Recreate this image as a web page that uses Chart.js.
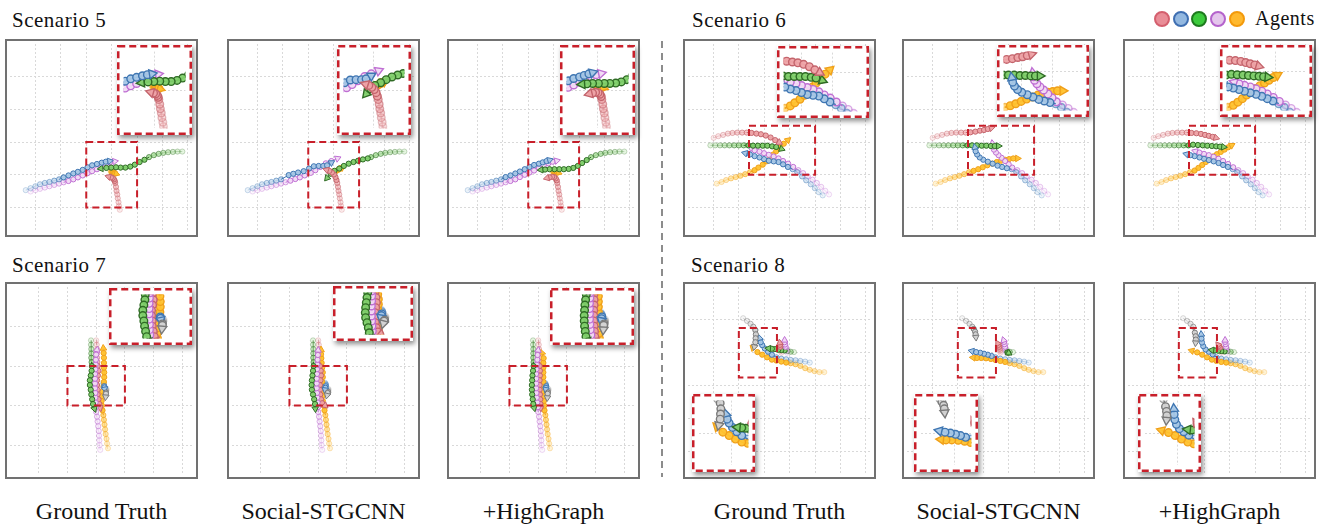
<!DOCTYPE html>
<html lang="en">
<head>
<meta charset="UTF-8">
<title>Trajectory scenarios</title>
<script src="https://cdn.jsdelivr.net/npm/chart.js@4.4.1/dist/chart.umd.min.js"></script>
<style>
  body { margin: 0; background: #fff; font-family: 'Liberation Serif', 'DejaVu Serif', serif; color: #111; }
  #stage { position: relative; width: 1321px; height: 526px; overflow: hidden; }
  .box { position: absolute; }
  .inset { position: absolute; background: #fff; box-shadow: 2px 3px 5px rgba(0,0,0,0.45); z-index: 2; }
  .title { position: absolute; font-size: 21px; line-height: 21px; letter-spacing: 0.5px; white-space: nowrap; }
  .method { position: absolute; width: 240px; text-align: center; font-size: 24px; line-height: 24px; white-space: nowrap; }
  .dot { position: absolute; width: 16px; height: 16px; border-radius: 50%; box-sizing: border-box; border: 2.5px solid; }
  .sep { position: absolute; left: 661px; top: 41px; width: 1.5px; height: 436px;
         background: repeating-linear-gradient(to bottom, #8c8c8c 0 7px, transparent 7px 12px); }
</style>
</head>
<body>
<div id="stage"></div>
<script>
// ---- grid lines / ranges (grid units) ----
const gridX7 = [1, 2, 3, 4, 5, 6, 7]
const gridY5 = [0, 1, 2, 3, 4]
const gridX6 = [1, 2, 3, 4, 5, 6]
const gridY4 = [0, 1, 2, 3]
const range5 = [0, 7.2, -0.75, 5]
const range6 = [0, 7.2, -0.75, 5]
const range7 = [0, 6.37, -0.73, 4]
const range8 = [0, 7.2, -0.69, 5]
// zoomed region shown in each inset: [xMin, xMax, yMin, yMax]
const box5 = [3, 5, 0, 2]
const box6 = [2.4, 5, 1, 2.5]
const box7 = [2, 4, 1, 2]
const box8 = [2, 3.5, 2.25, 3.75]

const methods = ['Ground Truth', 'Social-STGCNN', '+HighGraph']

// ---- Scenario 5 ----
const s5HistRed = [[4.32,-0.07],[4.29,0.05],[4.27,0.16],[4.24,0.28],[4.22,0.40],[4.19,0.51],[4.17,0.63],[4.14,0.75]]
const s5HistBlue = [[0.62,0.53],[0.81,0.59],[1.00,0.65],[1.18,0.71],[1.37,0.75],[1.55,0.78],[1.74,0.82],[1.93,0.86]]
const s5HistGreen = [[6.78,1.71],[6.59,1.71],[6.41,1.70],[6.22,1.69],[6.03,1.67],[5.85,1.64],[5.66,1.60],[5.47,1.54]]
const s5HistViolet = [[0.81,0.49],[1.00,0.53],[1.18,0.57],[1.37,0.61],[1.55,0.65],[1.74,0.69],[1.93,0.73],[2.11,0.77]]
const s5HistOrange = [[3.96,1.10],[3.98,1.10],[4.00,1.09]]

const s5GtRed = [[4.12,0.81],[4.09,0.86],[4.04,0.90],[3.97,0.92],[3.88,0.94]]
const s5GtBlue = [[2.11,0.92],[2.30,0.98],[2.49,1.04],[2.67,1.09],[2.86,1.15],[3.05,1.23],[3.23,1.29],[3.42,1.33],[3.61,1.37],[3.77,1.40],[3.92,1.42]]
const s5GtGreen = [[5.29,1.46],[5.10,1.39],[4.91,1.31],[4.73,1.25],[4.54,1.22],[4.35,1.22],[4.17,1.23],[3.98,1.22],[3.79,1.21],[3.58,1.19]]
const s5GtViolet = [[2.30,0.81],[2.49,0.86],[2.67,0.92],[2.86,0.98],[3.05,1.05],[3.23,1.11],[3.42,1.17],[3.61,1.25],[3.77,1.33],[3.94,1.39],[4.12,1.41]]
const s5GtOrange = [[4.03,1.08],[4.06,1.07],[4.10,1.05],[4.14,1.04],[4.18,1.03]]

const s5StRed = [[4.11,0.84],[4.07,0.93],[4.01,1.01],[3.93,1.07],[3.83,1.12],[3.72,1.15]]
const s5StBlue = [[2.23,0.99],[2.41,1.03],[2.60,1.07],[2.82,1.11],[3.03,1.19],[3.22,1.26],[3.41,1.27],[3.59,1.27],[3.74,1.29],[3.91,1.37]]
const s5StGreen = [[5.34,1.50],[5.15,1.47],[4.96,1.43],[4.78,1.39],[4.59,1.34],[4.40,1.27],[4.22,1.19],[4.03,1.12],[3.88,1.03],[3.74,0.90]]
const s5StViolet = [[2.30,0.82],[2.49,0.87],[2.67,0.92],[2.86,0.98],[3.10,1.06],[3.28,1.14],[3.47,1.24],[3.69,1.35],[3.91,1.42],[4.15,1.50]]
const s5StOrange = [[4.06,1.10],[4.13,1.13],[4.20,1.16],[4.27,1.19],[4.33,1.22]]

const s5HgRed = [[4.12,0.83],[4.08,0.89],[4.02,0.93],[3.94,0.94],[3.84,0.92],[3.74,0.90]]
const s5HgBlue = [[2.11,0.93],[2.30,0.98],[2.49,1.04],[2.67,1.10],[2.86,1.17],[3.05,1.24],[3.23,1.30],[3.42,1.34],[3.57,1.38],[3.72,1.42],[3.84,1.45]]
const s5HgGreen = [[5.30,1.45],[5.12,1.36],[4.95,1.27],[4.77,1.21],[4.59,1.18],[4.40,1.17],[4.22,1.17],[4.03,1.17],[3.84,1.17],[3.66,1.16],[3.50,1.15]]
const s5HgViolet = [[2.30,0.81],[2.49,0.86],[2.67,0.93],[2.86,1.00],[3.05,1.07],[3.23,1.13],[3.42,1.20],[3.61,1.28],[3.79,1.35],[3.96,1.40],[4.12,1.43]]
const s5HgOrange = [[4.03,1.08],[4.07,1.08],[4.11,1.08],[4.15,1.07],[4.19,1.06]]

// ---- Scenario 6 ----
const s6HistRed = [[1.01,2.13],[1.19,2.18],[1.38,2.22],[1.57,2.26],[1.75,2.28],[1.94,2.29],[2.13,2.29],[2.31,2.29]]
const s6HistBlue = [[5.30,0.37],[5.14,0.47],[4.99,0.59],[4.83,0.71],[4.65,0.83],[4.49,0.95],[4.30,1.08],[4.12,1.17]]
const s6HistGreen = [[0.88,1.90],[1.07,1.90],[1.26,1.90],[1.44,1.90],[1.63,1.90],[1.82,1.90],[2.00,1.90],[2.19,1.90]]
const s6HistViolet = [[5.55,0.40],[5.40,0.51],[5.24,0.63],[5.07,0.75],[4.90,0.85],[4.71,0.95],[4.53,1.05],[4.34,1.14]]
const s6HistOrange = [[1.13,0.73],[1.32,0.78],[1.50,0.84],[1.69,0.89],[1.88,0.93],[2.06,0.97],[2.25,1.02],[2.44,1.08]]

const s6GtRed = [[2.50,2.28],[2.69,2.26],[2.87,2.24],[3.06,2.20],[3.25,2.14],[3.43,2.06],[3.59,1.99]]
const s6GtBlue = [[3.93,1.24],[3.74,1.32],[3.56,1.39],[3.37,1.41],[3.18,1.43],[2.99,1.48],[2.81,1.53],[2.62,1.57],[2.44,1.62],[2.25,1.66]]
const s6GtGreen = [[2.38,1.90],[2.56,1.89],[2.75,1.89],[2.94,1.89],[3.12,1.89],[3.31,1.87],[3.47,1.85],[3.68,1.79]]
const s6GtViolet = [[4.14,1.24],[3.94,1.34],[3.74,1.42],[3.56,1.50],[3.37,1.56],[3.18,1.61],[2.99,1.66],[2.81,1.71],[2.62,1.75],[2.48,1.82]]
const s6GtOrange = [[2.62,1.14],[2.77,1.22],[2.94,1.31],[3.09,1.41],[3.23,1.50],[3.35,1.62],[3.47,1.72],[3.62,1.82],[3.77,1.95],[3.93,2.06]]

const s6StRed = [[2.50,2.30],[2.69,2.32],[2.87,2.35],[3.03,2.37],[3.18,2.40],[3.32,2.43]]
const s6StBlue = [[3.93,1.20],[3.74,1.24],[3.56,1.28],[3.37,1.34],[3.18,1.40],[3.00,1.46],[2.86,1.53],[2.76,1.62],[2.70,1.72],[2.67,1.84]]
const s6StGreen = [[2.38,1.90],[2.56,1.90],[2.75,1.90],[2.94,1.89],[3.12,1.89],[3.30,1.88],[3.45,1.88],[3.60,1.88]]
const s6StViolet = [[4.14,1.22],[4.00,1.32],[3.86,1.42],[3.72,1.52],[3.60,1.60],[3.50,1.68],[3.42,1.77],[3.38,1.86],[3.36,1.96]]
const s6StOrange = [[2.62,1.12],[2.80,1.17],[2.98,1.23],[3.16,1.29],[3.35,1.34],[3.53,1.39],[3.70,1.43],[3.86,1.46],[4.02,1.48],[4.18,1.50],[4.35,1.50]]

const s6HgRed = [[2.50,2.28],[2.69,2.27],[2.87,2.25],[3.03,2.22],[3.18,2.19],[3.33,2.16],[3.46,2.13]]
const s6HgBlue = [[3.93,1.24],[3.74,1.30],[3.56,1.36],[3.37,1.41],[3.18,1.45],[2.99,1.49],[2.81,1.53],[2.62,1.57],[2.45,1.60],[2.30,1.63]]
const s6HgGreen = [[2.38,1.90],[2.56,1.92],[2.75,1.91],[2.94,1.90],[3.12,1.89],[3.30,1.88],[3.47,1.87],[3.62,1.86],[3.76,1.85]]
const s6HgViolet = [[4.14,1.23],[3.94,1.33],[3.74,1.42],[3.56,1.49],[3.37,1.55],[3.18,1.60],[2.99,1.64],[2.81,1.68],[2.65,1.72]]
const s6HgOrange = [[2.62,1.13],[2.77,1.21],[2.92,1.30],[3.06,1.39],[3.20,1.48],[3.35,1.56],[3.50,1.63],[3.65,1.70],[3.80,1.77],[3.94,1.84],[4.08,1.90]]

// ---- Scenario 7 ----
const s7HistRed = [[3.00,2.65],[3.02,2.54],[3.03,2.43],[3.03,2.32],[3.03,2.21],[3.04,2.10]]
const s7HistBlue = [[3.24,1.58],[3.26,1.55],[3.27,1.52]]
const s7HistGreen = [[2.82,2.65],[2.82,2.54],[2.83,2.43],[2.83,2.32],[2.83,2.21],[2.84,2.10]]
const s7HistViolet = [[3.14,-0.12],[3.12,0.00],[3.11,0.12],[3.10,0.24],[3.09,0.36],[3.07,0.48],[3.05,0.60],[3.03,0.72],[3.00,0.84]]
const s7HistOrange = [[3.41,-0.08],[3.38,0.04],[3.36,0.16],[3.33,0.28],[3.31,0.40],[3.29,0.52],[3.27,0.64],[3.25,0.76]]
const s7HistGray = [[3.36,1.42],[3.35,1.39],[3.34,1.36]]

const s7GtRed = [[3.05,2.00],[3.08,1.88],[3.06,1.76],[3.03,1.64],[3.03,1.52],[3.05,1.40],[3.05,1.28],[3.08,1.16],[3.11,1.04],[3.14,0.94]]
const s7GtBlue = [[3.28,1.49],[3.29,1.46],[3.30,1.42]]
const s7GtGreen = [[2.85,2.00],[2.84,1.88],[2.81,1.76],[2.78,1.64],[2.78,1.52],[2.81,1.40],[2.83,1.28],[2.86,1.16],[2.89,1.04],[2.94,0.92]]
const s7GtViolet = [[2.99,0.96],[2.98,1.08],[2.97,1.20],[2.97,1.32],[2.96,1.44],[2.96,1.56],[2.96,1.68],[2.96,1.80],[2.97,1.92],[2.98,2.04],[2.99,2.16],[3.00,2.29],[3.03,2.41]]
const s7GtOrange = [[3.22,0.88],[3.20,1.00],[3.19,1.12],[3.20,1.24],[3.22,1.36],[3.25,1.48],[3.27,1.60],[3.28,1.72],[3.28,1.84],[3.27,1.96],[3.27,2.08],[3.27,2.21],[3.26,2.33],[3.25,2.45]]
const s7GtGray = [[3.34,1.33],[3.34,1.30],[3.33,1.22]]

const s7StRed = [[3.06,2.00],[3.09,1.88],[3.10,1.76],[3.08,1.64],[3.06,1.52],[3.06,1.40],[3.07,1.28],[3.10,1.16],[3.14,1.06],[3.24,1.00]]
const s7StBlue = [[3.26,1.49],[3.25,1.45],[3.24,1.40]]
const s7StGreen = [[2.84,2.00],[2.82,1.88],[2.80,1.76],[2.78,1.64],[2.77,1.52],[2.78,1.40],[2.82,1.28],[2.86,1.16],[2.89,1.04],[2.90,0.92]]
const s7StViolet = [[2.99,0.96],[2.98,1.08],[2.97,1.20],[2.96,1.32],[2.95,1.44],[2.95,1.56],[2.95,1.68],[2.96,1.80],[2.96,1.92],[2.97,2.04],[2.98,2.16],[2.99,2.28],[3.00,2.40]]
const s7StOrange = [[3.22,0.88],[3.19,1.00],[3.16,1.12],[3.14,1.24],[3.13,1.36],[3.13,1.48],[3.14,1.60],[3.16,1.72],[3.16,1.84],[3.14,1.96],[3.12,2.08],[3.11,2.20],[3.10,2.30],[3.10,2.41]]
const s7StGray = [[3.35,1.34],[3.33,1.32],[3.31,1.26]]

const s7HgRed = [[3.05,2.00],[3.06,1.88],[3.06,1.76],[3.05,1.64],[3.05,1.52],[3.05,1.40],[3.06,1.28],[3.07,1.16],[3.08,1.04],[3.09,0.94]]
const s7HgBlue = [[3.28,1.49],[3.27,1.45],[3.26,1.41]]
const s7HgGreen = [[2.84,2.00],[2.82,1.88],[2.80,1.76],[2.79,1.64],[2.78,1.52],[2.78,1.40],[2.79,1.28],[2.81,1.16],[2.83,1.04],[2.86,0.94]]
const s7HgViolet = [[2.99,0.96],[2.97,1.08],[2.95,1.20],[2.94,1.32],[2.93,1.44],[2.93,1.56],[2.93,1.68],[2.93,1.80],[2.94,1.92],[2.95,2.04],[2.97,2.16],[2.98,2.28],[3.00,2.40]]
const s7HgOrange = [[3.22,0.88],[3.21,1.00],[3.20,1.12],[3.19,1.24],[3.18,1.36],[3.18,1.48],[3.18,1.60],[3.18,1.72],[3.18,1.84],[3.18,1.96],[3.18,2.08],[3.19,2.20],[3.13,2.33]]
const s7HgGray = [[3.34,1.33],[3.33,1.30],[3.32,1.20]]

// ---- Scenario 8 ----
const s8HistRed = [[3.67,3.00],[3.66,3.06],[3.65,3.12]]
const s8HistBlue = [[4.79,2.70],[4.61,2.73],[4.42,2.75],[4.23,2.77],[4.04,2.78],[3.86,2.80],[3.67,2.82],[3.48,2.86]]
const s8HistGreen = [[4.17,3.02],[4.04,3.03],[3.92,3.05]]
const s8HistViolet = [[3.90,3.00],[3.88,3.06],[3.86,3.12]]
const s8HistOrange = [[5.36,2.41],[5.17,2.41],[4.98,2.44],[4.79,2.48],[4.61,2.53],[4.42,2.60],[4.23,2.65],[4.04,2.68]]
const s8HistGray = [[2.17,4.05],[2.32,3.97],[2.46,3.88],[2.57,3.79]]

const s8GtRed = [[3.63,3.18],[3.62,3.24],[3.61,3.30]]
const s8GtBlue = [[3.30,2.94],[3.15,3.03],[3.02,3.13],[2.92,3.23],[2.86,3.32],[2.82,3.44]]
const s8GtGreen = [[3.80,3.07],[3.67,3.08],[3.55,3.09],[3.42,3.11],[3.30,3.12],[3.17,3.13]]
const s8GtViolet = [[3.84,3.18],[3.82,3.25],[3.80,3.32],[3.80,3.38]]
const s8GtOrange = [[3.86,2.70],[3.67,2.73],[3.48,2.76],[3.30,2.79],[3.11,2.86],[2.92,2.94],[2.73,3.02],[2.55,3.15]]
const s8GtGray = [[2.65,3.69],[2.67,3.56],[2.66,3.44],[2.65,3.32],[2.61,3.18]]

const s8StRed = [[3.63,3.18],[3.60,3.24],[3.57,3.28]]
const s8StBlue = [[3.33,2.90],[3.18,2.94],[3.03,2.97],[2.88,3.00],[2.72,3.02],[2.55,3.05]]
const s8StGreen = [[3.95,3.02],[3.98,3.00],[4.00,2.99]]
const s8StViolet = [[3.86,3.18],[3.84,3.26],[3.82,3.33],[3.80,3.38]]
const s8StOrange = [[3.86,2.72],[3.67,2.75],[3.48,2.78],[3.30,2.81],[3.11,2.83],[2.92,2.84],[2.75,2.84],[2.60,2.85]]
const s8StGray = [[2.63,3.72],[2.68,3.64],[2.70,3.56],[2.71,3.47]]

const s8HgRed = [[3.62,3.16],[3.58,3.21],[3.55,3.24]]
const s8HgBlue = [[3.33,2.95],[3.18,3.03],[3.05,3.10],[2.96,3.20],[2.91,3.31],[2.89,3.43],[2.88,3.56]]
const s8HgGreen = [[3.80,3.04],[3.67,3.05],[3.55,3.06],[3.42,3.07],[3.30,3.08]]
const s8HgViolet = [[3.86,3.18],[3.84,3.26],[3.82,3.33],[3.82,3.38]]
const s8HgOrange = [[3.86,2.70],[3.67,2.72],[3.48,2.75],[3.30,2.79],[3.11,2.86],[2.92,2.94],[2.72,3.01],[2.51,3.06]]
const s8HgGray = [[2.63,3.61],[2.66,3.50],[2.67,3.40],[2.66,3.30]]

// ---- styles ----
const edgeColor = { red: '#c4646c', blue: '#3f76b2', green: '#2f6b25', violet: '#bf6fd3', orange: '#f0a01a', gray: '#7a7a7a' }
const fillColor = { red: '#eea3a7', blue: '#a7c7e6', green: '#80d06a', violet: '#f2dbf6', orange: '#ffc22e', gray: '#d3d3d3' }
const legendAgents = ['red', 'blue', 'green', 'violet', 'orange']
const legendFill = { red: '#e98d97', blue: '#93b8e0', green: '#3ccb3c', violet: '#e4c6ec', orange: '#ffb92e' }
const legendEdge = { red: '#d45f6e', blue: '#3f6fb2', green: '#1e7a1e', violet: '#b463cc', orange: '#f39a0c' }

// ---- layout ----
const panelLeft = [5, 227, 447, 683, 902, 1123]
const rowTop = [39, 282]
const rowHeight = [198, 197]
const panelWidth = 193

function rgba(hex, a) {
    const n = parseInt(hex.slice(1), 16)
    return 'rgba(' + (n >> 16) + ',' + ((n >> 8) & 255) + ',' + (n & 255) + ',' + a + ')'
}

const scenarios = [
    { title: 'Scenario 5', row: 0, col: 0, titleX: 12, range: range5, gx: gridX7, gy: gridY5, box: box5,
      insets: [[112, 6, 75, 90], [110, 6, 74, 90], [113, 6, 75, 90]],
      hist: { red: s5HistRed, blue: s5HistBlue, green: s5HistGreen, violet: s5HistViolet, orange: s5HistOrange },
      fut: [
        { red: s5GtRed, blue: s5GtBlue, green: s5GtGreen, violet: s5GtViolet, orange: s5GtOrange },
        { red: s5StRed, blue: s5StBlue, green: s5StGreen, violet: s5StViolet, orange: s5StOrange },
        { red: s5HgRed, blue: s5HgBlue, green: s5HgGreen, violet: s5HgViolet, orange: s5HgOrange }] },
    { title: 'Scenario 6', row: 0, col: 3, titleX: 692, range: range6, gx: gridX7, gy: gridY5, box: box6,
      insets: [[94, 7, 92, 72], [95, 6, 92, 72], [97, 6, 92, 72]],
      hist: { red: s6HistRed, blue: s6HistBlue, green: s6HistGreen, violet: s6HistViolet, orange: s6HistOrange },
      fut: [
        { red: s6GtRed, blue: s6GtBlue, green: s6GtGreen, violet: s6GtViolet, orange: s6GtOrange },
        { red: s6StRed, blue: s6StBlue, green: s6StGreen, violet: s6StViolet, orange: s6StOrange },
        { red: s6HgRed, blue: s6HgBlue, green: s6HgGreen, violet: s6HgViolet, orange: s6HgOrange }] },
    { title: 'Scenario 7', row: 1, col: 0, titleX: 12, range: range7, gx: gridX6, gy: gridY4, box: box7,
      insets: [[104, 6, 83, 57], [106, 4, 80, 55], [103, 6, 84, 57]],
      hist: { gray: s7HistGray, blue: s7HistBlue, green: s7HistGreen, violet: s7HistViolet, red: s7HistRed, orange: s7HistOrange },
      fut: [
        { gray: s7GtGray, blue: s7GtBlue, green: s7GtGreen, violet: s7GtViolet, red: s7GtRed, orange: s7GtOrange },
        { gray: s7StGray, blue: s7StBlue, green: s7StGreen, violet: s7StViolet, red: s7StRed, orange: s7StOrange },
        { gray: s7HgGray, blue: s7HgBlue, green: s7HgGreen, violet: s7HgViolet, red: s7HgRed, orange: s7HgOrange }] },
    { title: 'Scenario 8', row: 1, col: 3, titleX: 691, range: range8, gx: gridX7, gy: gridY5, box: box8,
      insets: [[9, 112, 63, 78], [12, 112, 64, 78], [15, 112, 63, 78]],
      hist: { gray: s8HistGray, red: s8HistRed, violet: s8HistViolet, green: s8HistGreen, blue: s8HistBlue, orange: s8HistOrange },
      fut: [
        { gray: s8GtGray, red: s8GtRed, violet: s8GtViolet, green: s8GtGreen, blue: s8GtBlue, orange: s8GtOrange },
        { gray: s8StGray, red: s8StRed, violet: s8StViolet, green: s8StGreen, blue: s8StBlue, orange: s8StOrange },
        { gray: s8HgGray, red: s8HgRed, violet: s8HgViolet, green: s8HgGreen, blue: s8HgBlue, orange: s8HgOrange }] }
]

// arrow head turned along the last step of the track
function arrowRot(c) {
    const d = c.dataset.data, i = c.dataIndex
    if (i !== d.length - 1 || i < 1) return 0
    const sx = c.chart.scales.x, sy = c.chart.scales.y
    const dx = sx.getPixelForValue(d[i].x) - sx.getPixelForValue(d[i - 1].x)
    const dy = sy.getPixelForValue(d[i].y) - sy.getPixelForValue(d[i - 1].y)
    return Math.atan2(dx, -dy) * 180 / Math.PI
}

const zoomBox = {
    id: 'zoomBox',
    afterDatasetsDraw(chart, args, opts) {
        if (!opts.box) return
        const { x, y } = chart.scales, ctx = chart.ctx
        const l = x.getPixelForValue(opts.box[0]), r = x.getPixelForValue(opts.box[1])
        const t = y.getPixelForValue(opts.box[3]), b = y.getPixelForValue(opts.box[2])
        ctx.save()
        ctx.setLineDash([7, 4])
        ctx.lineWidth = 2
        ctx.strokeStyle = '#c81f2a'
        ctx.strokeRect(l, t, r - l, b - t)
        ctx.restore()
    }
}

const frame = {
    id: 'frame',
    afterDraw(chart, args, opts) {
        const ctx = chart.ctx, w = chart.width, h = chart.height
        ctx.save()
        if (opts.inset) {
            ctx.setLineDash([7, 4])
            ctx.lineWidth = 2.5
            ctx.strokeStyle = '#c81f2a'
            ctx.strokeRect(1.25, 1.25, w - 2.5, h - 2.5)
        } else {
            ctx.lineWidth = 2
            ctx.strokeStyle = '#717171'
            ctx.strokeRect(1, 1, w - 2, h - 2)
        }
        ctx.restore()
    }
}

function axis(min, max, grid) {
    return {
        type: 'linear', min, max,
        afterBuildTicks: ax => { ax.ticks = grid.filter(v => v > min && v < max).map(v => ({ value: v })) },
        ticks: { display: false },
        grid: { color: '#d9d9d9', lineWidth: 1, drawTicks: false },
        border: { display: false, dash: [2, 2] }
    }
}

function buildDatasets(scn, m, inset) {
    const r = inset ? 3.8 : 2.6, ar = inset ? 5.2 : 3.8, bw = inset ? 1.4 : 1
    const ds = []
    Object.keys(scn.hist).forEach(a => {
        const h = scn.hist[a], f = scn.fut[m][a], n = h.length
        ds.push({
            data: h.map(p => ({ x: p[0], y: p[1] })),
            showLine: true, borderColor: rgba(edgeColor[a], 0.3), borderWidth: bw,
            pointRadius: r, pointBorderWidth: bw,
            pointBackgroundColor: c => rgba(fillColor[a], 0.2 + 0.4 * c.dataIndex / Math.max(1, n - 1)),
            pointBorderColor: c => rgba(edgeColor[a], 0.25 + 0.4 * c.dataIndex / Math.max(1, n - 1)),
            order: 2
        })
        const fd = [h[n - 1]].concat(f).map(p => ({ x: p[0], y: p[1] }))
        const last = fd.length - 1
        ds.push({
            data: fd,
            showLine: true, borderColor: edgeColor[a], borderWidth: bw,
            pointRadius: c => c.dataIndex === 0 ? 0 : (c.dataIndex === last ? ar : r),
            pointStyle: c => c.dataIndex === last ? 'triangle' : 'circle',
            pointRotation: arrowRot,
            pointBackgroundColor: rgba(fillColor[a], 0.95),
            pointBorderColor: edgeColor[a], pointBorderWidth: bw,
            order: 1
        })
    })
    return ds
}

function addChart(parent, cls, left, top, w, h, scn, m, inset) {
    const div = document.createElement('div')
    div.className = cls
    div.style.cssText = 'left:' + left + 'px;top:' + top + 'px;width:' + w + 'px;height:' + h + 'px'
    const cv = document.createElement('canvas')
    cv.width = w; cv.height = h
    div.appendChild(cv)
    parent.appendChild(div)
    const rg = inset ? scn.box : scn.range
    new Chart(cv, {
        type: 'scatter',
        data: { datasets: buildDatasets(scn, m, inset) },
        options: {
            responsive: false, animation: false, events: [],
            layout: { padding: 0 },
            elements: { line: { tension: 0 } },
            scales: { x: axis(rg[0], rg[1], scn.gx), y: axis(rg[2], rg[3], scn.gy) },
            plugins: {
                legend: { display: false }, tooltip: { enabled: false },
                zoomBox: { box: inset ? null : scn.box },
                frame: { inset: inset }
            }
        },
        plugins: [zoomBox, frame]
    })
}

const stage = document.getElementById('stage')

scenarios.forEach(scn => {
    const top = rowTop[scn.row], h = rowHeight[scn.row]
    const t = document.createElement('div')
    t.className = 'title'
    t.textContent = scn.title
    t.style.left = scn.titleX + 'px'
    t.style.top = (scn.row === 0 ? 10 : 255) + 'px'
    stage.appendChild(t)
    for (let m = 0; m < 3; m++) {
        const left = panelLeft[scn.col + m]
        addChart(stage, 'box', left, top, panelWidth, h, scn, m, false)
        const ins = scn.insets[m]
        addChart(stage, 'inset', left + ins[0], top + ins[1], ins[2], ins[3], scn, m, true)
    }
})

// method names under each column
panelLeft.forEach((l, i) => {
    const d = document.createElement('div')
    d.className = 'method'
    d.textContent = methods[i % 3]
    d.style.left = (l + panelWidth / 2 - 120) + 'px'
    d.style.top = '499px'
    stage.appendChild(d)
})

// separator between the two halves
const sep = document.createElement('div')
sep.className = 'sep'
stage.appendChild(sep)

// agents legend
legendAgents.forEach((a, i) => {
    const d = document.createElement('div')
    d.className = 'dot'
    d.style.left = (1154 + i * 18.7) + 'px'
    d.style.top = '11px'
    d.style.background = legendFill[a]
    d.style.borderColor = legendEdge[a]
    stage.appendChild(d)
})
const ag = document.createElement('div')
ag.className = 'title'
ag.textContent = 'Agents'
ag.style.left = '1255px'
ag.style.top = '8px'
ag.style.fontSize = '20px'
stage.appendChild(ag)
</script>
</body>
</html>
